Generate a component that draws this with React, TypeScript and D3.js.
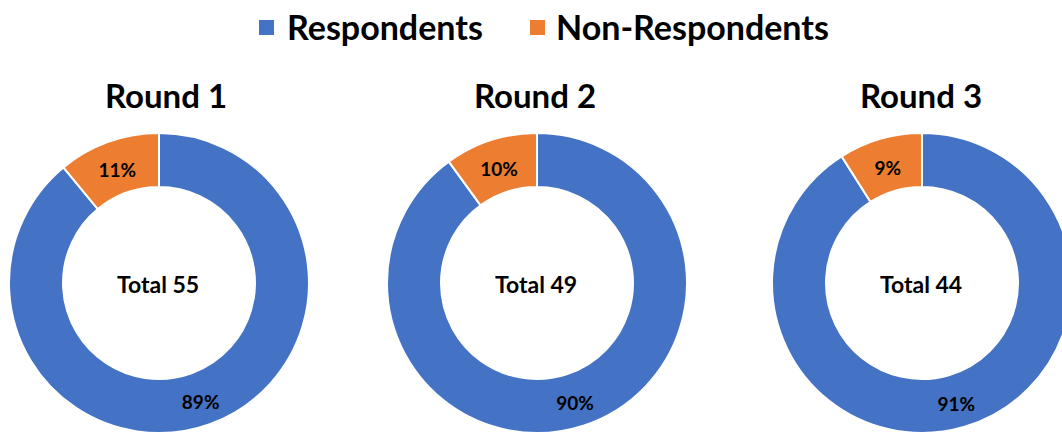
import React from "react";
import * as d3 from "d3";

const rounds = ["Round 1", "Round 2", "Round 3"];
const totals = [55, 49, 44];
const respondents = [89, 90, 91];
const nonRespondents = [11, 10, 9];
const seriesNames = ["Respondents", "Non-Respondents"];
const colors = ["#4472C4", "#ED7D31"];

const W = 1062;
const H = 437;
const centersX = [159, 537, 922];
const titleX = [166, 535, 921];
const cy = 283;
const rOuter = 150;
const rInner = 96;
const FONT = "Lato, 'Open Sans', sans-serif";

export default function App() {
  const pie = d3
    .pie<number>()
    .sort(null)
    .value((d) => d);
  const arc = d3.arc<d3.PieArcDatum<number>>().innerRadius(rInner).outerRadius(rOuter);
  const labelArc = d3
    .arc<d3.PieArcDatum<number>>()
    .innerRadius((rInner + rOuter) / 2)
    .outerRadius((rInner + rOuter) / 2);

  return (
    <svg
      width={W}
      height={H}
      style={{ position: "absolute", left: 0, top: 0, background: "#fff" }}
      fontFamily={FONT}
    >
      {/* Legend */}
      <g>
        <rect x={259} y={20} width={15} height={15} fill={colors[0]} />
        <text x={287} y={40} fontSize={34} fontWeight={700} fill="#000">
          {seriesNames[0]}
        </text>
        <rect x={530} y={20} width={15} height={15} fill={colors[1]} />
        <text x={556} y={40} fontSize={34} fontWeight={700} fill="#000">
          {seriesNames[1]}
        </text>
      </g>
      {rounds.map((r, i) => {
        const arcs = pie([respondents[i], nonRespondents[i]]);
        const labels = [respondents[i], nonRespondents[i]];
        return (
          <g key={r}>
            <text
              x={titleX[i]}
              y={108}
              textAnchor="middle"
              fontSize={33}
              fontWeight={700}
              fill="#000"
            >
              {r}
            </text>
            <g transform={`translate(${centersX[i]},${cy})`}>
              {arcs.map((a, j) => (
                <path
                  key={j}
                  d={arc(a) || ""}
                  fill={colors[j]}
                  stroke="#fff"
                  strokeWidth={2}
                />
              ))}
              {arcs.map((a, j) => {
                const [x, y] = labelArc.centroid(a);
                return (
                  <text
                    key={"l" + j}
                    x={x}
                    y={y + 3}
                    dy="0.36em"
                    textAnchor="middle"
                    fontSize={19}
                    fontWeight={700}
                    fill="#000"
                  >
                    {labels[j]}%
                  </text>
                );
              })}
              <text
                x={-1}
                y={10}
                textAnchor="middle"
                fontSize={23}
                fontWeight={700}
                fill="#000"
              >
                Total {totals[i]}
              </text>
            </g>
          </g>
        );
      })}
    </svg>
  );
}
